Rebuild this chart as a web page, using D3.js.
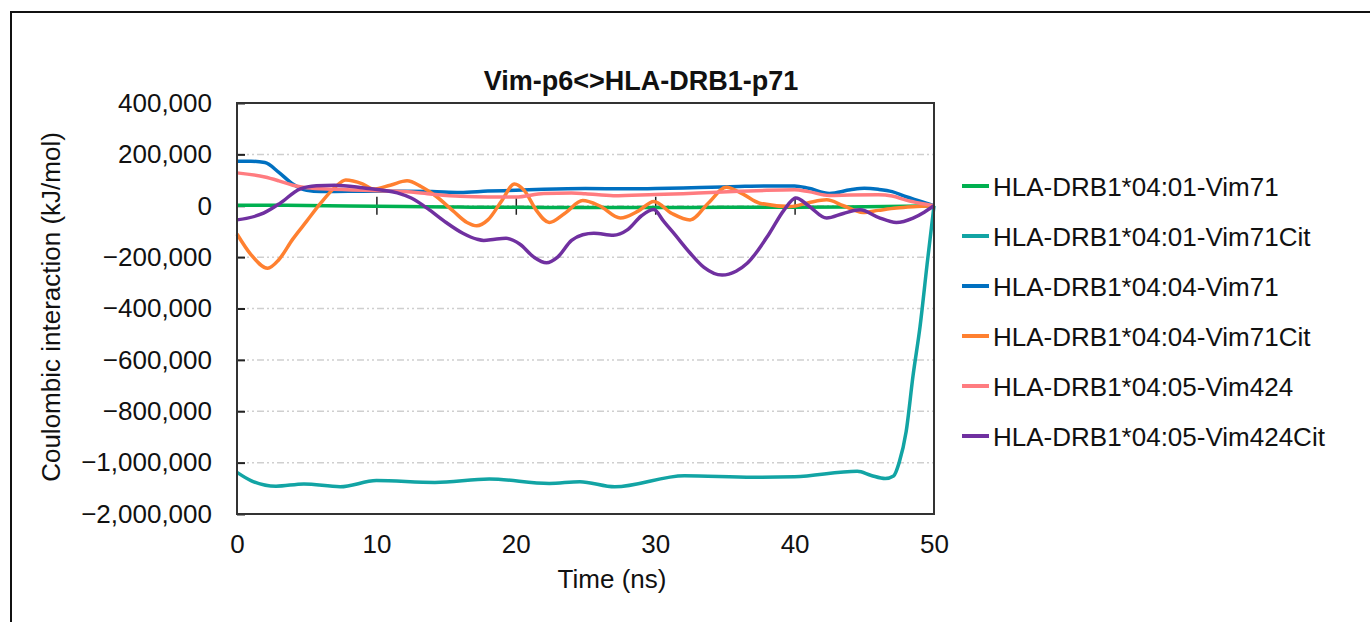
<!DOCTYPE html>
<html>
<head>
<meta charset="utf-8">
<script src="https://cdn.jsdelivr.net/npm/d3@7"></script>
<style>
  body { margin: 0; background: #fff; }
  svg { display: block; font-family: "Liberation Sans", Arial, sans-serif; }
</style>
</head>
<body>
<div id="chart"></div>
<script>
// axis ticks (the last label is printed as -2,000,000 in the source, on an even step)
const yTicks = [400000, 200000, 0, -200000, -400000, -600000, -800000, -1000000, -1200000];
const yTickLabels = ["400,000", "200,000", "0", "\u2212200,000", "\u2212400,000", "\u2212600,000",
                     "\u2212800,000", "\u22121,000,000", "\u22122,000,000"];
const xTicks = [0, 10, 20, 30, 40, 50];

const names = ["HLA-DRB1*04:01-Vim71", "HLA-DRB1*04:01-Vim71Cit", "HLA-DRB1*04:04-Vim71",
               "HLA-DRB1*04:04-Vim71Cit", "HLA-DRB1*04:05-Vim424", "HLA-DRB1*04:05-Vim424Cit"];
const colors = ["#00B050", "#12A4A4", "#0070C0", "#FF8030", "#FF7C80", "#7030A0"];

// time (ns) and value (kJ/mol) for each run
const t401 = [0, 5, 10, 15, 20, 25, 30, 35, 40, 45, 48, 50];
const v401 = [2000, 1000, -2000, -5000, -6000, -7000, -7000, -6000, -6000, -4000, -2000, 0];

const t401c = [0, 1, 2.8, 4.8, 7.4, 10, 14.2, 18.1, 22.4, 24.6, 27.1, 32.1, 37, 40, 44.5, 45.5,
               46.5, 47.1, 47.5, 48, 48.5, 49, 49.5, 50];
const v401c = [-1038000, -1070000, -1092000, -1083000, -1094000, -1070000, -1077000, -1064000,
               -1081000, -1074000, -1094000, -1051000, -1057000, -1055000, -1034000, -1050000,
               -1062000, -1052000, -1000000, -880000, -660000, -470000, -230000, 0];

const t404 = [0, 1, 2, 3, 4, 5, 6, 8, 10, 12, 14, 16, 18, 20, 22, 25, 28, 30, 32, 34, 36, 38, 40,
              41, 42.5, 44, 45, 46, 47, 48, 49, 50];
const v404 = [173000, 173000, 168000, 130000, 85000, 60000, 55000, 56000, 56000, 56000, 55000,
              52000, 57000, 60000, 64000, 67000, 66000, 67000, 69000, 72000, 75000, 77000, 77000,
              68000, 48000, 62000, 68000, 64000, 55000, 35000, 18000, 0];

const t404c = [0, 1, 2.2, 3, 4, 5, 6, 7, 7.8, 9, 9.8, 11, 12.2, 13.2, 14.3, 15.5, 16.5, 17.2, 18, 19,
               19.9, 20.6, 21.5, 22.4, 23.5, 24.8, 26, 27.5, 28.8, 29.9, 31.2, 32.5, 33.8, 35.1, 36.3,
               37.5, 39.7, 41, 42.3, 43.5, 44.9, 46, 47.3, 48.5, 50];
const v404c = [-110000, -190000, -243000, -210000, -130000, -60000, 10000, 70000, 100000, 85000,
               65000, 80000, 97000, 75000, 36000, -20000, -65000, -78000, -55000, 20000, 85000,
               60000, -20000, -65000, -30000, 20000, 0, -48000, -20000, 17000, -30000, -55000,
               10000, 72000, 45000, 10000, -3000, 12000, 23000, 0, -26000, -18000, -9000, -4000, 0];

const t405 = [0, 2, 3, 4, 5, 7, 10, 12, 14, 16, 18, 20, 22, 24, 25, 27, 30, 32, 34, 36, 38, 40, 41,
              42.5, 44, 46, 47, 48, 49, 50];
const v405 = [128000, 112000, 97000, 80000, 70000, 64000, 58000, 55000, 45000, 37000, 34000, 34000,
              48000, 50000, 47000, 39000, 44000, 47000, 52000, 56000, 60000, 62000, 55000, 40000,
              42000, 43000, 38000, 22000, 10000, 0];

const t405c = [0, 1.9, 3.1, 4.5, 5.7, 7, 9, 11.5, 12.5, 13.8, 15, 16.2, 17.2, 17.7, 18.5, 19.3, 20.3,
               21.3, 22.2, 23, 24, 24.8, 25.6, 27, 28, 29, 29.9, 30.6, 31.3, 32.5, 33.5, 34.8, 35.8,
               36.6, 38.2, 39.2, 40.1, 41, 42.3, 43.5, 44.7, 46, 47.3, 48.5, 49.3, 50];
const v405c = [-55000, -29000, 10000, 65000, 78000, 80000, 70000, 50000, 30000, -16000, -65000,
               -107000, -130000, -135000, -130000, -127000, -150000, -200000, -222000, -200000,
               -135000, -113000, -107000, -115000, -94000, -40000, -15000, -60000, -105000, -184000,
               -240000, -270000, -255000, -224000, -107000, -20000, 30000, 0, -48000, -30000, -16000,
               -45000, -65000, -48000, -25000, 0];

const seriesT = [t401, t401c, t404, t404c, t405, t405c];
const seriesV = [v401, v401c, v404, v404c, v405, v405c];

const series = names.map((name, i) => ({
    name: name,
    color: colors[i],
    points: seriesT[i].map((t, j) => [t, seriesV[i][j]])
}));

const W = 1370, H = 622;
const margin = { top: 103, right: 436, bottom: 108, left: 237 };
const width = W - margin.left - margin.right;
const height = H - margin.top - margin.bottom;

const svg = d3.select("#chart").append("svg")
    .attr("width", W)
    .attr("height", H);

svg.append("rect").attr("width", W).attr("height", H).attr("fill", "#fff");

// outer frame
svg.append("rect")
    .attr("x", 11).attr("y", 12)
    .attr("width", W + 50).attr("height", H + 50)
    .attr("fill", "none").attr("stroke", "#111").attr("stroke-width", 2);

const x = d3.scaleLinear().domain([0, 50]).range([0, width]);
const y = d3.scaleLinear().domain([-1200000, 400000]).range([height, 0]);

const g = svg.append("g").attr("transform", `translate(${margin.left},${margin.top})`);

// gridlines
g.append("g").selectAll("line")
    .data(yTicks.filter(d => d < 400000 && d > -1200000))
    .enter().append("line")
    .attr("x1", 0).attr("x2", width)
    .attr("y1", d => y(d)).attr("y2", d => y(d))
    .attr("stroke", "#cfcfcf")
    .attr("stroke-width", 1.5)
    .attr("stroke-dasharray", "7,3,2,3,2,3");

// y axis
const yAxis = g.append("g")
    .call(d3.axisLeft(y).tickValues(yTicks)
        .tickFormat((d, i) => yTickLabels[i])
        .tickSize(-8).tickPadding(25));
yAxis.select(".domain").remove();
yAxis.selectAll(".tick line").attr("stroke", "#222").attr("stroke-width", 2);
yAxis.selectAll("text").attr("font-size", 26).attr("fill", "#111");

// crossing ticks on the zero line
const zeroAxis = g.append("g")
    .attr("transform", `translate(0,${y(0) - 9})`)
    .call(d3.axisBottom(x).tickValues(xTicks.slice(1, -1)).tickSize(18).tickFormat(""));
zeroAxis.select(".domain").remove();
zeroAxis.selectAll(".tick line").attr("stroke", "#222").attr("stroke-width", 1.5);

// x labels at bottom
const xAxis = g.append("g")
    .attr("transform", `translate(0,${height})`)
    .call(d3.axisBottom(x).tickValues(xTicks).tickSize(0).tickPadding(21));
xAxis.select(".domain").remove();
xAxis.selectAll("text").attr("font-size", 26).attr("fill", "#111");

// lines
const line = d3.line()
    .x(d => x(d[0]))
    .y(d => y(d[1]))
    .curve(d3.curveMonotoneX);

g.append("g").selectAll("path")
    .data(series)
    .enter().append("path")
    .attr("d", d => line(d.points))
    .attr("fill", "none")
    .attr("stroke", d => d.color)
    .attr("stroke-width", 3.5)
    .attr("stroke-linejoin", "round");

// plot frame
g.append("rect")
    .attr("width", width).attr("height", height)
    .attr("fill", "none").attr("stroke", "#333").attr("stroke-width", 2);

// title and axis titles
svg.append("text")
    .attr("x", 641).attr("y", 90)
    .attr("text-anchor", "middle")
    .attr("font-size", 27).attr("font-weight", "bold").attr("fill", "#111")
    .text("Vim-p6<>HLA-DRB1-p71");

svg.append("text")
    .attr("x", 612).attr("y", 588)
    .attr("text-anchor", "middle")
    .attr("font-size", 26).attr("fill", "#111")
    .text("Time (ns)");

svg.append("text")
    .attr("transform", "translate(60,307) rotate(-90)")
    .attr("text-anchor", "middle")
    .attr("font-size", 26).attr("fill", "#111")
    .text("Coulombic interaction (kJ/mol)");

// legend
const legend = svg.append("g").attr("transform", "translate(962,186)");
const item = legend.selectAll("g")
    .data(series)
    .enter().append("g")
    .attr("transform", (d, i) => `translate(0,${i * 50})`);

item.append("line")
    .attr("x1", 0).attr("x2", 27)
    .attr("stroke", d => d.color)
    .attr("stroke-width", 4);

item.append("text")
    .attr("x", 31).attr("y", 9.5)
    .attr("font-size", 26).attr("fill", "#111")
    .text(d => d.name);
</script>
</body>
</html>
